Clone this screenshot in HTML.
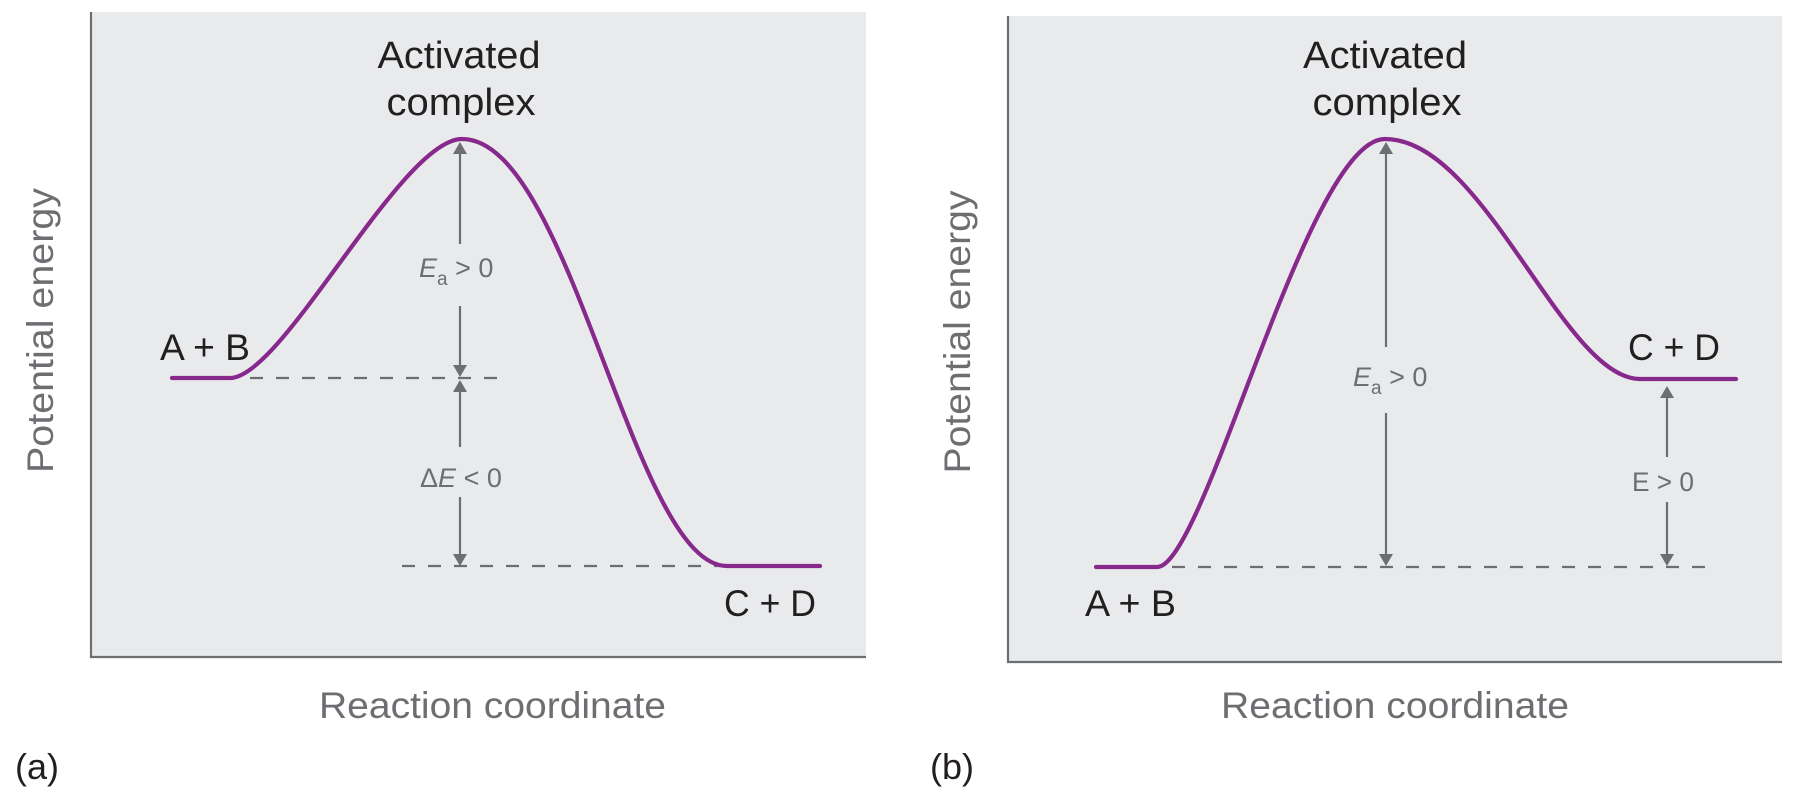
<!DOCTYPE html>
<html>
<head>
<meta charset="utf-8">
<style>
  html, body { margin: 0; padding: 0; background: #ffffff; }
  svg { display: block; }
  text { font-family: "Liberation Sans", "DejaVu Sans", sans-serif; }
</style>
</head>
<body>
<svg width="1805" height="802" viewBox="0 0 1805 802" xmlns="http://www.w3.org/2000/svg">
  <rect x="0" y="0" width="1805" height="802" fill="#ffffff"/>

  <!-- ================= Panel (a) ================= -->
  <rect x="91" y="12" width="775" height="645" fill="#e9eaec"/>
  <path d="M91,12 V657 H866" fill="none" stroke="#6d6e71" stroke-width="2.2"/>

  <!-- dashed levels -->
  <line x1="250" y1="378" x2="504" y2="378" stroke="#6d6e71" stroke-width="2.2" stroke-dasharray="13 13"/>
  <line x1="402" y1="566" x2="722" y2="566" stroke="#6d6e71" stroke-width="2.2" stroke-dasharray="13 13"/>

  <!-- Ea arrow -->
  <polygon points="460,142 453,154 467,154" fill="#6d6e71"/>
  <line x1="460" y1="153" x2="460" y2="244" stroke="#6d6e71" stroke-width="2.2"/>
  <line x1="460" y1="306" x2="460" y2="367" stroke="#6d6e71" stroke-width="2.2"/>
  <polygon points="460,377 453,365 467,365" fill="#6d6e71"/>

  <!-- dE arrow -->
  <polygon points="460,380 453,392 467,392" fill="#6d6e71"/>
  <line x1="460" y1="390" x2="460" y2="447" stroke="#6d6e71" stroke-width="2.2"/>
  <line x1="460" y1="497" x2="460" y2="555" stroke="#6d6e71" stroke-width="2.2"/>
  <polygon points="460,566 453,554 467,554" fill="#6d6e71"/>

  <!-- curve -->
  <path d="M172,378 H230 C283,378 401,139 462,139 C571,139 633,566 727,566 H820"
        fill="none" stroke="#87288d" stroke-width="4.2" stroke-linecap="round" stroke-linejoin="round"/>

  <!-- labels -->
  <text x="459" y="68" font-size="38" fill="#231f20" text-anchor="middle" textLength="163" lengthAdjust="spacingAndGlyphs">Activated</text>
  <text x="461" y="115" font-size="38" fill="#231f20" text-anchor="middle" textLength="149" lengthAdjust="spacingAndGlyphs">complex</text>
  <text x="160" y="360" font-size="37" fill="#231f20" textLength="90" lengthAdjust="spacingAndGlyphs">A + B</text>
  <text x="724" y="616" font-size="37" fill="#231f20" textLength="92" lengthAdjust="spacingAndGlyphs">C + D</text>

  <text x="419" y="277" font-size="27" fill="#6d6e71"><tspan font-style="italic">E</tspan><tspan font-size="19" dy="8">a</tspan><tspan dy="-8"> &gt; 0</tspan></text>
  <text x="420" y="487" font-size="27" fill="#6d6e71">Δ<tspan font-style="italic">E</tspan> &lt; 0</text>

  <text x="319" y="718" font-size="37" fill="#6d6e71" textLength="347" lengthAdjust="spacingAndGlyphs">Reaction coordinate</text>
  <text transform="translate(53,330.5) rotate(-90)" x="0" y="0" font-size="37" fill="#6d6e71" text-anchor="middle" textLength="285" lengthAdjust="spacingAndGlyphs">Potential energy</text>

  <text x="15" y="779" font-size="36" fill="#231f20">(a)</text>

  <!-- ================= Panel (b) ================= -->
  <rect x="1008" y="16" width="774" height="646" fill="#e9eaec"/>
  <path d="M1008,16 V662 H1782" fill="none" stroke="#6d6e71" stroke-width="2.2"/>

  <!-- dashed level -->
  <line x1="1172" y1="567" x2="1711" y2="567" stroke="#6d6e71" stroke-width="2.2" stroke-dasharray="13 13"/>

  <!-- Ea arrow -->
  <polygon points="1386,142 1379,154 1393,154" fill="#6d6e71"/>
  <line x1="1386" y1="153" x2="1386" y2="347" stroke="#6d6e71" stroke-width="2.2"/>
  <line x1="1386" y1="413" x2="1386" y2="556" stroke="#6d6e71" stroke-width="2.2"/>
  <polygon points="1386,566 1379,554 1393,554" fill="#6d6e71"/>

  <!-- E arrow -->
  <polygon points="1667,386 1660,398 1674,398" fill="#6d6e71"/>
  <line x1="1667" y1="397" x2="1667" y2="457" stroke="#6d6e71" stroke-width="2.2"/>
  <line x1="1667" y1="502" x2="1667" y2="556" stroke="#6d6e71" stroke-width="2.2"/>
  <polygon points="1667,566 1660,554 1674,554" fill="#6d6e71"/>

  <!-- curve -->
  <path d="M1096,567 H1157 C1205,567 1307,139 1385,139 C1484.5,139 1563,379 1640,379 H1736"
        fill="none" stroke="#87288d" stroke-width="4.2" stroke-linecap="round" stroke-linejoin="round"/>

  <!-- labels -->
  <text x="1385" y="68" font-size="38" fill="#231f20" text-anchor="middle" textLength="164" lengthAdjust="spacingAndGlyphs">Activated</text>
  <text x="1387" y="115" font-size="38" fill="#231f20" text-anchor="middle" textLength="149" lengthAdjust="spacingAndGlyphs">complex</text>
  <text x="1085" y="616" font-size="37" fill="#231f20" textLength="91" lengthAdjust="spacingAndGlyphs">A + B</text>
  <text x="1628" y="360" font-size="37" fill="#231f20" textLength="92" lengthAdjust="spacingAndGlyphs">C + D</text>

  <text x="1353" y="386" font-size="27" fill="#6d6e71"><tspan font-style="italic">E</tspan><tspan font-size="19" dy="8">a</tspan><tspan dy="-8"> &gt; 0</tspan></text>
  <text x="1632" y="491" font-size="27" fill="#6d6e71" textLength="62" lengthAdjust="spacingAndGlyphs">E &gt; 0</text>

  <text x="1221" y="718" font-size="37" fill="#6d6e71" textLength="348" lengthAdjust="spacingAndGlyphs">Reaction coordinate</text>
  <text transform="translate(970,332) rotate(-90)" x="0" y="0" font-size="37" fill="#6d6e71" text-anchor="middle" textLength="283" lengthAdjust="spacingAndGlyphs">Potential energy</text>

  <text x="930" y="779" font-size="36" fill="#231f20">(b)</text>
</svg>
</body>
</html>
